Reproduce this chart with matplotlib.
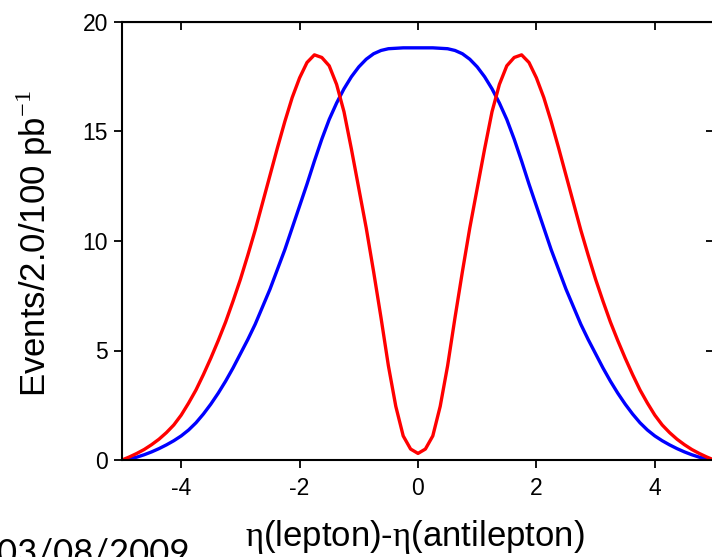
import numpy as np
import matplotlib
matplotlib.use('Agg')
import matplotlib.pyplot as plt

plt.rcParams['font.family'] = ['Liberation Sans', 'DejaVu Sans']
plt.rcParams['mathtext.fontset'] = 'custom'
plt.rcParams['mathtext.rm'] = 'Liberation Serif'
plt.rcParams['axes.unicode_minus'] = False

# data
deta = [-5.0, -4.875, -4.75, -4.625, -4.5, -4.375, -4.25, -4.125,
        -4.0, -3.875, -3.75, -3.625, -3.5, -3.375, -3.25, -3.125,
        -3.0, -2.875, -2.75, -2.625, -2.5, -2.375, -2.25, -2.125,
        -2.0, -1.875, -1.75, -1.625, -1.5, -1.375, -1.25, -1.125,
        -1.0, -0.875, -0.75, -0.625, -0.5, -0.375, -0.25, -0.125,
        0.0,
        0.125, 0.25, 0.375, 0.5, 0.625, 0.75, 0.875, 1.0,
        1.125, 1.25, 1.375, 1.5, 1.625, 1.75, 1.875, 2.0,
        2.125, 2.25, 2.375, 2.5, 2.625, 2.75, 2.875, 3.0,
        3.125, 3.25, 3.375, 3.5, 3.625, 3.75, 3.875, 4.0,
        4.125, 4.25, 4.375, 4.5, 4.625, 4.75, 4.875, 5.0]

blue = [0.0, 0.05, 0.13, 0.24, 0.37, 0.52, 0.69, 0.88,
        1.1, 1.37, 1.7, 2.1, 2.55, 3.05, 3.6, 4.2,
        4.85, 5.5, 6.2, 7.0, 7.8, 8.7, 9.6, 10.6,
        11.6, 12.6, 13.65, 14.65, 15.55, 16.3, 16.95, 17.5,
        17.95, 18.3, 18.55, 18.7, 18.78, 18.8, 18.82, 18.82,
        18.82,
        18.82, 18.82, 18.8, 18.78, 18.7, 18.55, 18.3, 17.95,
        17.5, 16.95, 16.3, 15.55, 14.65, 13.65, 12.6, 11.6,
        10.6, 9.6, 8.7, 7.8, 7.0, 6.2, 5.5, 4.85,
        4.2, 3.6, 3.05, 2.55, 2.1, 1.7, 1.37, 1.1,
        0.88, 0.69, 0.52, 0.37, 0.24, 0.13, 0.05, 0.0]

red = [0.0, 0.14, 0.3, 0.48, 0.7, 0.95, 1.25, 1.6,
       2.05, 2.6, 3.2, 3.9, 4.65, 5.45, 6.3, 7.25,
       8.25, 9.35, 10.5, 11.75, 13.0, 14.25, 15.45, 16.55,
       17.45, 18.15, 18.5, 18.38, 18.0, 17.15, 15.9, 14.2,
       12.4, 10.6, 8.6, 6.5, 4.3, 2.45, 1.1, 0.5,
       0.3,
       0.5, 1.1, 2.45, 4.3, 6.5, 8.6, 10.6, 12.4,
       14.2, 15.9, 17.15, 18.0, 18.38, 18.5, 18.15, 17.45,
       16.55, 15.45, 14.25, 13.0, 11.75, 10.5, 9.35, 8.25,
       7.25, 6.3, 5.45, 4.65, 3.9, 3.2, 2.6, 2.05,
       1.6, 1.25, 0.95, 0.7, 0.48, 0.3, 0.14, 0.0]

xticks = [-4, -2, 0, 2, 4]
yticks = [0, 5, 10, 15, 20]

fig = plt.figure(figsize=(7.12, 5.57), dpi=100)
ax = fig.add_axes([122/712, 1 - 460/557, 592/712, 438/557])

ax.plot(deta, blue, color='#0000ff', lw=2.4, solid_joinstyle='round')
ax.plot(deta, red, color='#ff0000', lw=2.4, solid_joinstyle='round')

ax.set_xlim(-5, 5)
ax.set_ylim(0, 20)
ax.set_xticks(xticks)
ax.set_yticks(yticks)
ax.tick_params(direction='out', length=6, width=1.3, labelsize=16.5)
ax.tick_params(axis='x', pad=6)
ax.tick_params(axis='y', pad=4)
for s in ax.spines.values():
    s.set_linewidth(1.5)

# inward ticks on top and right
top = ax.secondary_xaxis('top')
top.set_xticks(xticks)
top.tick_params(direction='in', length=6, width=1.3, labeltop=False)
right = ax.secondary_yaxis('right')
right.set_yticks(yticks)
right.tick_params(direction='in', length=6, width=1.3, labelright=False)

ax.set_ylabel('Events/2.0/100 pb$^{-1}$', fontsize=25)
ax.yaxis.set_label_coords(-0.113, 0.495)
ax.set_xlabel(r'$\mathrm{\eta}$(lepton)-$\mathrm{\eta}$(antilepton)', fontsize=25)
ax.xaxis.set_label_coords(0.495, -0.132)

fig.text(-0.004, -0.011, '03/08/2009', family='Lato', fontsize=25,
         va='baseline', ha='left')

fig.savefig('out.png', dpi=100)
